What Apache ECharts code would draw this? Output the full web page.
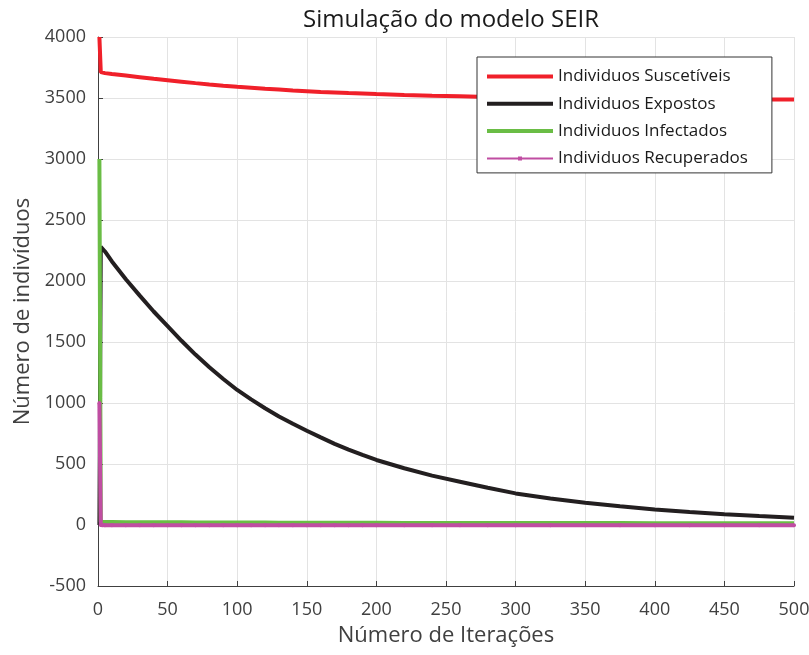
<!DOCTYPE html>
<html>
<head>
<meta charset="utf-8">
<script src="https://cdn.jsdelivr.net/npm/echarts@6/dist/echarts.min.js"></script>
<style>
  html, body { margin: 0; padding: 0; background: #fff; }
  #chart { width: 809px; height: 655px; }
</style>
</head>
<body>
<div id="chart"></div>
<script>
// Iteration indices at which each population is sampled
const iteracoes = [1, 2, 3, 5, 10, 20, 30, 40, 50, 60, 70, 80, 90, 100, 110, 120, 130, 140, 150, 160, 170, 180, 190, 200, 220, 240, 260, 280, 300, 325, 350, 375, 400, 425, 450, 475, 500];

// SEIR compartments
const suscetiveis = [4000, 3712, 3708, 3704, 3697, 3684, 3671, 3658, 3646, 3634, 3622, 3611, 3601, 3592, 3584, 3576, 3569, 3562, 3556, 3550, 3545, 3540, 3536, 3532, 3525, 3519, 3514, 3509, 3505, 3501, 3497, 3494, 3492, 3490, 3489, 3488, 3487];
const expostos    = [0, 2280, 2275, 2242, 2160, 2015, 1880, 1750, 1630, 1510, 1397, 1293, 1197, 1107, 1030, 957, 890, 830, 773, 718, 665, 618, 574, 533, 465, 405, 355, 305, 259, 217, 183, 153, 127, 106, 88, 73, 60];
const infectados  = [3000, 26, 25, 24, 24, 23, 23, 22, 22, 22, 21, 21, 21, 20, 20, 20, 19, 19, 19, 19, 18, 18, 18, 18, 17, 17, 17, 17, 16, 16, 16, 16, 15, 15, 15, 15, 15];
const recuperados = [1000, -1, -2, -2, -2, -2, -2, -2, -2, -2, -2, -2, -2, -2, -2, -2, -2, -2, -2, -2, -2, -2, -2, -2, -2, -2, -2, -2, -2, -2, -2, -2, -2, -2, -2, -2, -2];

const nomes = ['Individuos Suscetíveis', 'Individuos Expostos', 'Individuos Infectados', 'Individuos Recuperados'];
const cores = ['#f0202a', '#231f20', '#6abd45', '#c04da2'];

const pares = (vals) => iteracoes.map((t, i) => [t, vals[i]]);

const FONT = '"Open Sans", "Noto Sans", sans-serif';

// Legend glyphs: a thick bar for the plain lines, a thin bar with a dot for the marked line
const ICON_BAR = 'path://M0,0 L66,0 L66,4 L0,4 Z';
const ICON_DOT = 'path://M0,1 L66,1 L66,3 L0,3 Z M31,0 L35,0 L35,4 L31,4 Z';

const chart = echarts.init(document.getElementById('chart'), null, { renderer: 'canvas' });

const lineSeries = (idx, vals, extra) => Object.assign({
  name: nomes[idx],
  type: 'line',
  data: pares(vals),
  symbol: 'none',
  smooth: false,
  animation: false,
  lineStyle: { color: cores[idx], width: 4 },
  itemStyle: { color: cores[idx] },
  z: 2 + idx
}, extra || {});

chart.setOption({
  backgroundColor: '#ffffff',
  animation: false,
  title: {
    text: 'Simulação do modelo SEIR',
    left: 446,
    textAlign: 'center',
    top: 3,
    textStyle: { fontFamily: FONT, fontSize: 24, fontWeight: 'normal', color: '#1a1a1a' }
  },
  grid: { left: 98, right: 15, top: 37, bottom: 69, containLabel: false, outerBoundsMode: 'none' },
  legend: {
    orient: 'vertical',
    left: 477,
    top: 57,
    padding: [11, 24, 6, 10],
    itemWidth: 66,
    itemHeight: 4,
    itemGap: 10.3,
    backgroundColor: '#ffffff',
    borderColor: '#333333',
    borderWidth: 1,
    borderRadius: 0,
    textStyle: { fontFamily: FONT, fontSize: 17, lineHeight: 17, color: '#1a1a1a' },
    data: [
      { name: nomes[0], icon: ICON_BAR },
      { name: nomes[1], icon: ICON_BAR },
      { name: nomes[2], icon: ICON_BAR },
      { name: nomes[3], icon: ICON_DOT }
    ]
  },
  xAxis: {
    type: 'value',
    min: 0,
    max: 500,
    interval: 50,
    name: 'Número de Iterações',
    nameLocation: 'middle',
    nameGap: 39,
    nameTextStyle: { fontFamily: FONT, fontSize: 22, color: '#404040' },
    axisLine: { show: true, onZero: false, lineStyle: { color: '#404040', width: 1 } },
    axisTick: { show: true, inside: true, length: 5, lineStyle: { color: '#404040' } },
    axisLabel: { fontFamily: FONT, fontSize: 18, color: '#404040', margin: 15 },
    splitLine: { show: true, lineStyle: { color: '#e3e3e3', width: 1 } }
  },
  yAxis: {
    type: 'value',
    min: -500,
    max: 4000,
    interval: 500,
    name: 'Número de indivíduos',
    nameLocation: 'middle',
    nameGap: 62,
    nameTextStyle: { fontFamily: FONT, fontSize: 22, color: '#404040' },
    axisLine: { show: true, onZero: false, lineStyle: { color: '#404040', width: 1 } },
    axisTick: { show: true, inside: true, length: 5, lineStyle: { color: '#404040' } },
    axisLabel: { fontFamily: FONT, fontSize: 18, color: '#404040', margin: 12, formatter: (v) => String(v) },
    splitLine: { show: true, lineStyle: { color: '#e3e3e3', width: 1 } }
  },
  series: [
    lineSeries(0, suscetiveis),
    lineSeries(1, expostos),
    lineSeries(2, infectados),
    lineSeries(3, recuperados, {
      symbol: 'circle',
      symbolSize: 4,
      showSymbol: true,
      lineStyle: { color: cores[3], width: 4 }
    })
  ]
});
</script>
</body>
</html>
